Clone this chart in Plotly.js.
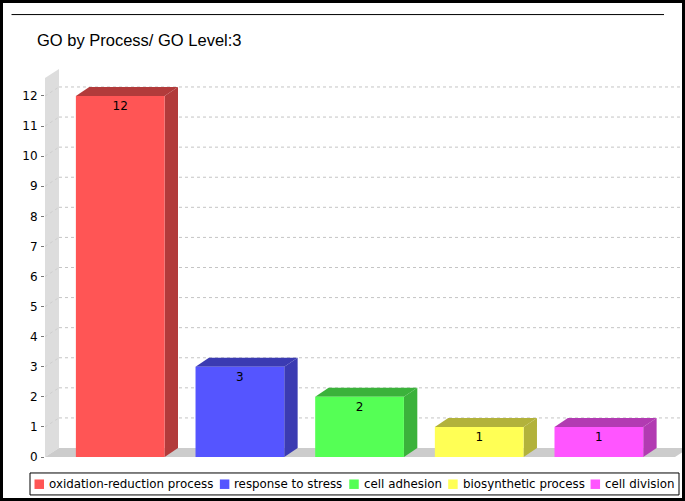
<!DOCTYPE html>
<html>
<head>
<meta charset="utf-8">
<script src="https://cdn.plot.ly/plotly-3.0.1.min.js"></script>
<style>
html,body{margin:0;padding:0;background:#fff;overflow:hidden}
#wrap{position:relative;width:685px;height:501px}
#frame{position:absolute;left:0;top:0;width:685px;height:501px;box-sizing:border-box;border:3px solid #000;pointer-events:none}
</style>
</head>
<body>
<div id="wrap"><div id="chart"></div><div id="frame"></div></div>
<script>
const categories = ["oxidation-reduction process","response to stress","cell adhesion","biosynthetic process","cell division"];
const values = [12,3,2,1,1];
const frontColors = ["#FF5555","#5555FF","#55FF55","#FFFF55","#FF55FF"];
const sideColors = ["#B23B3B","#3B3BB2","#3BB23B","#B2B23B","#B23BB2"];
const tickValues = [0,1,2,3,4,5,6,7,8,9,10,11,12];
const chartTitle = "GO by Process/ GO Level:3";

const W=685,H=501;
const mL=44.5,mR=0,mT=69,mB=43.5;
const pxPerCat=119.75, firstCenter=119.8, pxPerVal=30.125;
const xLo=(mL-firstCenter)/pxPerCat, xHi=(W-mR-firstCenter)/pxPerCat;
const yHi=(H-mB-mT)/pxPerVal;
const dx=14/pxPerCat, dy=9/pxPerVal;
const barDx=13.4/pxPerCat;
const barW=88.8/pxPerCat;
const floorEnd=(675-firstCenter)/pxPerCat;
const px=x=>(x-mL)/(W-mL-mR);
const py=y=>(H-mB-y)/(H-mB-mT);

const poly=(pts,color)=>({type:"path",xref:"x",yref:"y",layer:"below",fillcolor:color,
  line:{width:0},path:"M"+pts.map(p=>p[0]+","+p[1]).join("L")+"Z"});
const seg=(x0,y0,x1,y1,color)=>({type:"line",xref:"x",yref:"y",layer:"below",x0,y0,x1,y1,
  line:{color,width:1,dash:"3px,3px"}});

const shapes=[];
shapes.push(poly([[xLo,0],[xLo+dx,dy],[xLo+dx,yHi],[xLo,yHi-dy]],"#DDDDDD"));
shapes.push(poly([[xLo,0],[xLo+dx,dy],[floorEnd+dx,dy],[floorEnd,0]],"#CCCCCC"));
tickValues.forEach(v=>{
  if(v>0){
    shapes.push(seg(xLo,v,xLo+dx,v+dy,"#CFCFCF"));
    shapes.push(seg(xLo+dx,v+dy,xHi,v+dy,"#C4C4C4"));
  }
});
values.forEach((v,i)=>{
  const r=i+barW/2,l=i-barW/2;
  shapes.push(poly([[r,0],[r+barDx,dy],[r+barDx,v+dy],[r,v]],sideColors[i]));
  shapes.push(poly([[l,v],[l+barDx,v+dy],[r+barDx,v+dy],[r,v]],sideColors[i]));
});

shapes.push({type:"line",xref:"paper",yref:"paper",x0:px(11),x1:px(664),y0:py(14.5),y1:py(14.5),line:{color:"#000",width:1}});
shapes.push({type:"rect",xref:"paper",yref:"paper",x0:px(29.5),x1:px(679),y0:py(473.5),y1:py(495.5),line:{color:"#000",width:1},fillcolor:"#fff"});

const swatchX=[34,219.5,349,448,590.5];
const annotations=[];
categories.forEach((c,i)=>{
  shapes.push({type:"rect",xref:"paper",yref:"paper",x0:px(swatchX[i]),x1:px(swatchX[i]+9.5),y0:py(480),y1:py(489.5),line:{width:0},fillcolor:frontColors[i]});
  annotations.push({xref:"paper",yref:"paper",x:px(swatchX[i]+12.4),y:py(484.5),xanchor:"left",yanchor:"middle",showarrow:false,text:c,
    font:{family:"DejaVu Sans",size:11.85,color:"#000"}});
});

const traces=categories.map((c,i)=>({
  type:"bar",x:[i],y:[values[i]],width:barW,name:c,
  marker:{color:frontColors[i],line:{width:0}},
  text:[String(values[i])],textposition:"inside",insidetextanchor:"end",textangle:0,
  constraintext:"none",textfont:{family:"DejaVu Sans",size:12,color:"#000"},
  hoverinfo:"x+y",showlegend:false
}));

const layout={
  width:W,height:H,autosize:false,
  paper_bgcolor:"#fff",plot_bgcolor:"#fff",
  margin:{l:mL,r:mR,t:mT,b:mB,pad:0},
  showlegend:false,
  title:{text:chartTitle,xref:"container",yref:"container",x:37/W,xanchor:"left",y:1-40/H,yanchor:"middle",pad:{l:0,r:0,t:0,b:0},
    font:{family:"Liberation Sans",size:16.5,color:"#000"}},
  xaxis:{range:[xLo,xHi],visible:false,fixedrange:true},
  yaxis:{range:[0,yHi],tickmode:"array",tickvals:tickValues,ticktext:tickValues.map(String),
    ticks:"outside",ticklen:3,tickwidth:1,tickcolor:"#777",ticklabelstandoff:1,showgrid:false,zeroline:false,showline:false,
    tickfont:{family:"DejaVu Sans",size:12,color:"#000"},fixedrange:true},
  shapes,annotations
};
Plotly.newPlot("chart",traces,layout,{displayModeBar:false,staticPlot:true});
</script>
</body>
</html>
